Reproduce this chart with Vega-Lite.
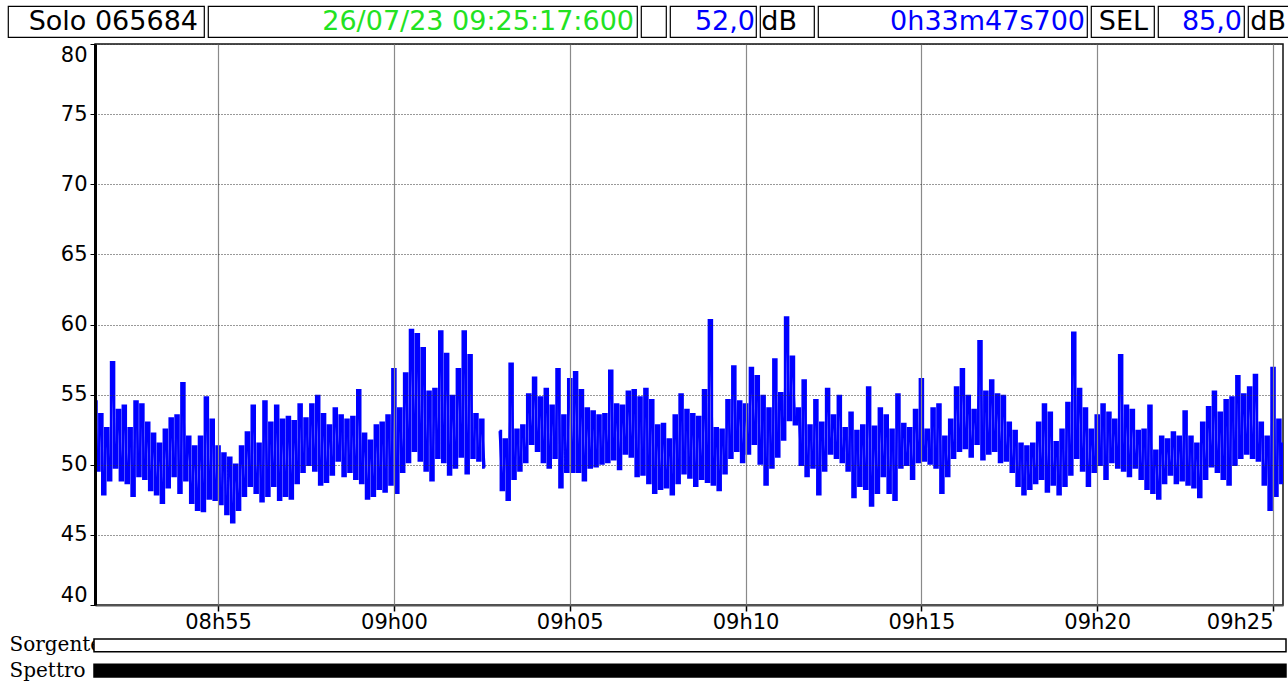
{
"$schema": "https://vega.github.io/schema/vega-lite/v6.json",
"background": "white",
"padding": {"left": 7, "top": 5, "right": 0, "bottom": 0},
"config": {"view": {"stroke": null}, "font": "DejaVu Sans", "axis": {"labelFont": "DejaVu Sans"}},
"spacing": 0,
"vconcat": [
{"hconcat": [
 {"width": 196, "height": 31, "view": {"stroke": "#000", "strokeWidth": 1.2}, "data": {"values": [{"label": "Solo 065684"}]}, "mark": {"type": "text", "x": "width", "dx": -6, "align": "right", "baseline": "middle", "fontSize": 27, "color": "#000"}, "encoding": {"text": {"field": "label"}}},
 {"width": 429, "height": 31, "view": {"stroke": "#000", "strokeWidth": 1.2}, "data": {"values": [{"label": "26/07/23 09:25:17:600"}]}, "mark": {"type": "text", "x": "width", "dx": -3, "align": "right", "baseline": "middle", "fontSize": 27, "color": "#22e222"}, "encoding": {"text": {"field": "label"}}},
 {"width": 25, "height": 31, "view": {"stroke": "#000", "strokeWidth": 1.2}, "data": {"values": [{"label": " "}]}, "mark": {"type": "text", "x": "width", "align": "right", "baseline": "middle", "fontSize": 27}, "encoding": {"text": {"field": "label"}}},
 {"width": 86, "height": 31, "view": {"stroke": "#000", "strokeWidth": 1.2}, "data": {"values": [{"label": "52,0"}]}, "mark": {"type": "text", "x": "width", "dx": -1, "align": "right", "baseline": "middle", "fontSize": 27, "color": "#0000ff"}, "encoding": {"text": {"field": "label"}}},
 {"width": 54, "height": 31, "view": {"stroke": "#000", "strokeWidth": 1.2}, "data": {"values": [{"label": "dB"}]}, "mark": {"type": "text", "x": "width", "dx": -17, "align": "right", "baseline": "middle", "fontSize": 27, "color": "#000"}, "encoding": {"text": {"field": "label"}}},
 {"width": 269, "height": 31, "view": {"stroke": "#000", "strokeWidth": 1.2}, "data": {"values": [{"label": "0h33m47s700"}]}, "mark": {"type": "text", "x": "width", "dx": -2, "align": "right", "baseline": "middle", "fontSize": 27, "color": "#0000ff"}, "encoding": {"text": {"field": "label"}}},
 {"width": 63, "height": 31, "view": {"stroke": "#000", "strokeWidth": 1.2}, "data": {"values": [{"label": "SEL"}]}, "mark": {"type": "text", "x": "width", "dx": -6, "align": "right", "baseline": "middle", "fontSize": 27, "color": "#000"}, "encoding": {"text": {"field": "label"}}},
 {"width": 86, "height": 31, "view": {"stroke": "#000", "strokeWidth": 1.2}, "data": {"values": [{"label": "85,0"}]}, "mark": {"type": "text", "x": "width", "dx": -2, "align": "right", "baseline": "middle", "fontSize": 27, "color": "#0000ff"}, "encoding": {"text": {"field": "label"}}},
 {"width": 41, "height": 31, "view": {"stroke": "#000", "strokeWidth": 1.2}, "data": {"values": [{"label": "dB"}]}, "mark": {"type": "text", "x": "width", "dx": -3, "align": "right", "baseline": "middle", "fontSize": 27, "color": "#000"}, "encoding": {"text": {"field": "label"}}}
], "spacing": 2},
{"hconcat": [
 {"width": 51, "height": 1, "data": {"values": [{"label": " "}]}, "mark": {"type": "text"}, "encoding": {"text": {"field": "label"}}},
 {"width": 1188, "height": 561,
  "view": {"stroke": "#111", "strokeWidth": 1.5},
  "data": {"values": [
{"t":"2023-07-26T08:51:30","v":54.5},{"t":"2023-07-26T08:51:35","v":49.6},{"t":"2023-07-26T08:51:40","v":53.6},{"t":"2023-07-26T08:51:45","v":47.9},{"t":"2023-07-26T08:51:50","v":52.6},{"t":"2023-07-26T08:51:55","v":48.9},
{"t":"2023-07-26T08:52:00","v":57.3},{"t":"2023-07-26T08:52:05","v":49.8},{"t":"2023-07-26T08:52:10","v":53.9},{"t":"2023-07-26T08:52:15","v":48.9},{"t":"2023-07-26T08:52:20","v":54.2},{"t":"2023-07-26T08:52:25","v":48.7},
{"t":"2023-07-26T08:52:30","v":52.6},{"t":"2023-07-26T08:52:35","v":47.8},{"t":"2023-07-26T08:52:40","v":54.5},{"t":"2023-07-26T08:52:45","v":49.2},{"t":"2023-07-26T08:52:50","v":54.3},{"t":"2023-07-26T08:52:55","v":49.0},
{"t":"2023-07-26T08:53:00","v":53.0},{"t":"2023-07-26T08:53:05","v":48.2},{"t":"2023-07-26T08:53:10","v":52.2},{"t":"2023-07-26T08:53:15","v":47.9},{"t":"2023-07-26T08:53:20","v":51.5},{"t":"2023-07-26T08:53:25","v":47.3},
{"t":"2023-07-26T08:53:30","v":52.5},{"t":"2023-07-26T08:53:35","v":48.4},{"t":"2023-07-26T08:53:40","v":53.3},{"t":"2023-07-26T08:53:45","v":49.2},{"t":"2023-07-26T08:53:50","v":53.5},{"t":"2023-07-26T08:53:55","v":48.0},
{"t":"2023-07-26T08:54:00","v":55.8},{"t":"2023-07-26T08:54:05","v":48.9},{"t":"2023-07-26T08:54:10","v":52.0},{"t":"2023-07-26T08:54:15","v":47.3},{"t":"2023-07-26T08:54:20","v":51.3},{"t":"2023-07-26T08:54:25","v":46.8},
{"t":"2023-07-26T08:54:30","v":52.0},{"t":"2023-07-26T08:54:35","v":46.7},{"t":"2023-07-26T08:54:40","v":54.8},{"t":"2023-07-26T08:54:45","v":47.6},{"t":"2023-07-26T08:54:50","v":53.2},{"t":"2023-07-26T08:54:55","v":47.5},
{"t":"2023-07-26T08:55:00","v":51.3},{"t":"2023-07-26T08:55:05","v":47.2},{"t":"2023-07-26T08:55:10","v":50.8},{"t":"2023-07-26T08:55:15","v":46.5},{"t":"2023-07-26T08:55:20","v":50.5},{"t":"2023-07-26T08:55:25","v":45.9},
{"t":"2023-07-26T08:55:30","v":50.0},{"t":"2023-07-26T08:55:35","v":46.8},{"t":"2023-07-26T08:55:40","v":51.3},{"t":"2023-07-26T08:55:45","v":47.8},{"t":"2023-07-26T08:55:50","v":52.3},{"t":"2023-07-26T08:55:55","v":48.5},
{"t":"2023-07-26T08:56:00","v":54.2},{"t":"2023-07-26T08:56:05","v":48.0},{"t":"2023-07-26T08:56:10","v":51.5},{"t":"2023-07-26T08:56:15","v":47.4},{"t":"2023-07-26T08:56:20","v":54.5},{"t":"2023-07-26T08:56:25","v":47.8},
{"t":"2023-07-26T08:56:30","v":53.0},{"t":"2023-07-26T08:56:35","v":48.5},{"t":"2023-07-26T08:56:40","v":54.2},{"t":"2023-07-26T08:56:45","v":47.5},{"t":"2023-07-26T08:56:50","v":53.2},{"t":"2023-07-26T08:56:55","v":47.8},
{"t":"2023-07-26T08:57:00","v":53.4},{"t":"2023-07-26T08:57:05","v":47.6},{"t":"2023-07-26T08:57:10","v":53.1},{"t":"2023-07-26T08:57:15","v":48.7},{"t":"2023-07-26T08:57:20","v":54.3},{"t":"2023-07-26T08:57:25","v":49.5},
{"t":"2023-07-26T08:57:30","v":53.3},{"t":"2023-07-26T08:57:35","v":50.0},{"t":"2023-07-26T08:57:40","v":54.3},{"t":"2023-07-26T08:57:45","v":49.6},{"t":"2023-07-26T08:57:50","v":54.9},{"t":"2023-07-26T08:57:55","v":48.6},
{"t":"2023-07-26T08:58:00","v":53.6},{"t":"2023-07-26T08:58:05","v":48.8},{"t":"2023-07-26T08:58:10","v":52.8},{"t":"2023-07-26T08:58:15","v":49.3},{"t":"2023-07-26T08:58:20","v":54.0},{"t":"2023-07-26T08:58:25","v":50.3},
{"t":"2023-07-26T08:58:30","v":53.5},{"t":"2023-07-26T08:58:35","v":49.2},{"t":"2023-07-26T08:58:40","v":53.2},{"t":"2023-07-26T08:58:45","v":49.5},{"t":"2023-07-26T08:58:50","v":53.4},{"t":"2023-07-26T08:58:55","v":49.0},
{"t":"2023-07-26T08:59:00","v":55.3},{"t":"2023-07-26T08:59:05","v":48.7},{"t":"2023-07-26T08:59:10","v":52.2},{"t":"2023-07-26T08:59:15","v":47.6},{"t":"2023-07-26T08:59:20","v":51.7},{"t":"2023-07-26T08:59:25","v":47.8},
{"t":"2023-07-26T08:59:30","v":52.8},{"t":"2023-07-26T08:59:35","v":48.3},{"t":"2023-07-26T08:59:40","v":53.0},{"t":"2023-07-26T08:59:45","v":48.1},{"t":"2023-07-26T08:59:50","v":53.5},{"t":"2023-07-26T08:59:55","v":48.6},
{"t":"2023-07-26T09:00:00","v":56.8},{"t":"2023-07-26T09:00:05","v":48.0},{"t":"2023-07-26T09:00:10","v":54.0},{"t":"2023-07-26T09:00:15","v":49.5},{"t":"2023-07-26T09:00:20","v":56.5},{"t":"2023-07-26T09:00:25","v":50.2},
{"t":"2023-07-26T09:00:30","v":59.6},{"t":"2023-07-26T09:00:35","v":51.0},{"t":"2023-07-26T09:00:40","v":59.3},{"t":"2023-07-26T09:00:45","v":50.3},{"t":"2023-07-26T09:00:50","v":58.3},{"t":"2023-07-26T09:00:55","v":49.6},
{"t":"2023-07-26T09:01:00","v":55.2},{"t":"2023-07-26T09:01:05","v":48.9},{"t":"2023-07-26T09:01:10","v":55.4},{"t":"2023-07-26T09:01:15","v":50.5},{"t":"2023-07-26T09:01:20","v":59.5},{"t":"2023-07-26T09:01:25","v":50.2},
{"t":"2023-07-26T09:01:30","v":57.9},{"t":"2023-07-26T09:01:35","v":49.3},{"t":"2023-07-26T09:01:40","v":54.9},{"t":"2023-07-26T09:01:45","v":49.8},{"t":"2023-07-26T09:01:50","v":56.8},{"t":"2023-07-26T09:01:55","v":50.6},
{"t":"2023-07-26T09:02:00","v":59.5},{"t":"2023-07-26T09:02:05","v":49.4},{"t":"2023-07-26T09:02:10","v":57.8},{"t":"2023-07-26T09:02:15","v":50.5},{"t":"2023-07-26T09:02:20","v":53.6},{"t":"2023-07-26T09:02:25","v":50.3},
{"t":"2023-07-26T09:02:30","v":53.2},{"t":"2023-07-26T09:02:35","v":49.8},{"t":"2023-07-26T09:02:47","v":null},
{"t":"2023-07-26T09:03:00","v":52.4},{"t":"2023-07-26T09:03:05","v":48.2},{"t":"2023-07-26T09:03:10","v":51.8},{"t":"2023-07-26T09:03:15","v":47.5},{"t":"2023-07-26T09:03:20","v":57.2},{"t":"2023-07-26T09:03:25","v":49.0},
{"t":"2023-07-26T09:03:30","v":52.5},{"t":"2023-07-26T09:03:35","v":49.6},{"t":"2023-07-26T09:03:40","v":52.8},{"t":"2023-07-26T09:03:45","v":50.2},{"t":"2023-07-26T09:03:50","v":55.0},{"t":"2023-07-26T09:03:55","v":51.5},
{"t":"2023-07-26T09:04:00","v":56.2},{"t":"2023-07-26T09:04:05","v":51.0},{"t":"2023-07-26T09:04:10","v":54.8},{"t":"2023-07-26T09:04:15","v":50.2},{"t":"2023-07-26T09:04:20","v":55.4},{"t":"2023-07-26T09:04:25","v":49.8},
{"t":"2023-07-26T09:04:30","v":54.2},{"t":"2023-07-26T09:04:35","v":50.5},{"t":"2023-07-26T09:04:40","v":56.8},{"t":"2023-07-26T09:04:45","v":48.4},{"t":"2023-07-26T09:04:50","v":53.5},{"t":"2023-07-26T09:04:55","v":49.5},
{"t":"2023-07-26T09:05:00","v":56.1},{"t":"2023-07-26T09:05:05","v":49.5},{"t":"2023-07-26T09:05:10","v":56.6},{"t":"2023-07-26T09:05:15","v":49.5},{"t":"2023-07-26T09:05:20","v":55.3},{"t":"2023-07-26T09:05:25","v":48.9},
{"t":"2023-07-26T09:05:30","v":54.0},{"t":"2023-07-26T09:05:35","v":49.8},{"t":"2023-07-26T09:05:40","v":53.8},{"t":"2023-07-26T09:05:45","v":49.9},{"t":"2023-07-26T09:05:50","v":53.5},{"t":"2023-07-26T09:05:55","v":50.1},
{"t":"2023-07-26T09:06:00","v":53.6},{"t":"2023-07-26T09:06:05","v":50.2},{"t":"2023-07-26T09:06:10","v":56.7},{"t":"2023-07-26T09:06:15","v":50.4},{"t":"2023-07-26T09:06:20","v":54.3},{"t":"2023-07-26T09:06:25","v":49.7},
{"t":"2023-07-26T09:06:30","v":54.2},{"t":"2023-07-26T09:06:35","v":50.8},{"t":"2023-07-26T09:06:40","v":55.2},{"t":"2023-07-26T09:06:45","v":50.6},{"t":"2023-07-26T09:06:50","v":55.3},{"t":"2023-07-26T09:06:55","v":49.2},
{"t":"2023-07-26T09:07:00","v":54.8},{"t":"2023-07-26T09:07:05","v":49.3},{"t":"2023-07-26T09:07:10","v":55.4},{"t":"2023-07-26T09:07:15","v":48.7},{"t":"2023-07-26T09:07:20","v":54.6},{"t":"2023-07-26T09:07:25","v":48.0},
{"t":"2023-07-26T09:07:30","v":52.8},{"t":"2023-07-26T09:07:35","v":48.3},{"t":"2023-07-26T09:07:40","v":52.9},{"t":"2023-07-26T09:07:45","v":48.4},{"t":"2023-07-26T09:07:50","v":51.8},{"t":"2023-07-26T09:07:55","v":47.9},
{"t":"2023-07-26T09:08:00","v":53.5},{"t":"2023-07-26T09:08:05","v":48.7},{"t":"2023-07-26T09:08:10","v":55.0},{"t":"2023-07-26T09:08:15","v":49.4},{"t":"2023-07-26T09:08:20","v":53.9},{"t":"2023-07-26T09:08:25","v":49.1},
{"t":"2023-07-26T09:08:30","v":53.6},{"t":"2023-07-26T09:08:35","v":48.5},{"t":"2023-07-26T09:08:40","v":53.4},{"t":"2023-07-26T09:08:45","v":49.0},{"t":"2023-07-26T09:08:50","v":55.3},{"t":"2023-07-26T09:08:55","v":48.8},
{"t":"2023-07-26T09:09:00","v":60.3},{"t":"2023-07-26T09:09:05","v":48.6},{"t":"2023-07-26T09:09:10","v":52.6},{"t":"2023-07-26T09:09:15","v":48.2},{"t":"2023-07-26T09:09:20","v":52.5},{"t":"2023-07-26T09:09:25","v":49.4},
{"t":"2023-07-26T09:09:30","v":54.6},{"t":"2023-07-26T09:09:35","v":50.5},{"t":"2023-07-26T09:09:40","v":57.0},{"t":"2023-07-26T09:09:45","v":51.0},{"t":"2023-07-26T09:09:50","v":54.5},{"t":"2023-07-26T09:09:55","v":50.2},
{"t":"2023-07-26T09:10:00","v":54.3},{"t":"2023-07-26T09:10:05","v":50.8},{"t":"2023-07-26T09:10:10","v":56.9},{"t":"2023-07-26T09:10:15","v":51.5},{"t":"2023-07-26T09:10:20","v":56.3},{"t":"2023-07-26T09:10:25","v":50.1},
{"t":"2023-07-26T09:10:30","v":54.9},{"t":"2023-07-26T09:10:35","v":48.6},{"t":"2023-07-26T09:10:40","v":54.0},{"t":"2023-07-26T09:10:45","v":49.8},{"t":"2023-07-26T09:10:50","v":57.5},{"t":"2023-07-26T09:10:55","v":50.6},
{"t":"2023-07-26T09:11:00","v":55.1},{"t":"2023-07-26T09:11:05","v":51.8},{"t":"2023-07-26T09:11:10","v":60.5},{"t":"2023-07-26T09:11:15","v":53.2},{"t":"2023-07-26T09:11:20","v":57.7},{"t":"2023-07-26T09:11:25","v":52.9},
{"t":"2023-07-26T09:11:30","v":54.0},{"t":"2023-07-26T09:11:35","v":50.0},{"t":"2023-07-26T09:11:40","v":56.0},{"t":"2023-07-26T09:11:45","v":49.2},{"t":"2023-07-26T09:11:50","v":52.8},{"t":"2023-07-26T09:11:55","v":49.8},
{"t":"2023-07-26T09:12:00","v":54.6},{"t":"2023-07-26T09:12:05","v":47.9},{"t":"2023-07-26T09:12:10","v":53.0},{"t":"2023-07-26T09:12:15","v":49.6},{"t":"2023-07-26T09:12:20","v":55.4},{"t":"2023-07-26T09:12:25","v":50.8},
{"t":"2023-07-26T09:12:30","v":53.5},{"t":"2023-07-26T09:12:35","v":50.5},{"t":"2023-07-26T09:12:40","v":54.9},{"t":"2023-07-26T09:12:45","v":50.2},{"t":"2023-07-26T09:12:50","v":52.6},{"t":"2023-07-26T09:12:55","v":49.6},
{"t":"2023-07-26T09:13:00","v":53.7},{"t":"2023-07-26T09:13:05","v":47.7},{"t":"2023-07-26T09:13:10","v":52.4},{"t":"2023-07-26T09:13:15","v":48.5},{"t":"2023-07-26T09:13:20","v":52.8},{"t":"2023-07-26T09:13:25","v":48.3},
{"t":"2023-07-26T09:13:30","v":55.5},{"t":"2023-07-26T09:13:35","v":47.1},{"t":"2023-07-26T09:13:40","v":52.7},{"t":"2023-07-26T09:13:45","v":48.0},{"t":"2023-07-26T09:13:50","v":54.0},{"t":"2023-07-26T09:13:55","v":49.2},
{"t":"2023-07-26T09:14:00","v":53.5},{"t":"2023-07-26T09:14:05","v":48.0},{"t":"2023-07-26T09:14:10","v":52.5},{"t":"2023-07-26T09:14:15","v":47.5},{"t":"2023-07-26T09:14:20","v":55.0},{"t":"2023-07-26T09:14:25","v":49.8},
{"t":"2023-07-26T09:14:30","v":52.9},{"t":"2023-07-26T09:14:35","v":50.0},{"t":"2023-07-26T09:14:40","v":52.6},{"t":"2023-07-26T09:14:45","v":49.0},{"t":"2023-07-26T09:14:50","v":53.9},{"t":"2023-07-26T09:14:55","v":50.2},
{"t":"2023-07-26T09:15:00","v":56.1},{"t":"2023-07-26T09:15:05","v":50.3},{"t":"2023-07-26T09:15:10","v":52.5},{"t":"2023-07-26T09:15:15","v":50.1},{"t":"2023-07-26T09:15:20","v":54.0},{"t":"2023-07-26T09:15:25","v":49.8},
{"t":"2023-07-26T09:15:30","v":54.3},{"t":"2023-07-26T09:15:35","v":48.0},{"t":"2023-07-26T09:15:40","v":52.0},{"t":"2023-07-26T09:15:45","v":49.2},{"t":"2023-07-26T09:15:50","v":53.2},{"t":"2023-07-26T09:15:55","v":50.5},
{"t":"2023-07-26T09:16:00","v":55.5},{"t":"2023-07-26T09:16:05","v":51.0},{"t":"2023-07-26T09:16:10","v":56.8},{"t":"2023-07-26T09:16:15","v":51.2},{"t":"2023-07-26T09:16:20","v":54.9},{"t":"2023-07-26T09:16:25","v":50.6},
{"t":"2023-07-26T09:16:30","v":53.9},{"t":"2023-07-26T09:16:35","v":51.5},{"t":"2023-07-26T09:16:40","v":58.8},{"t":"2023-07-26T09:16:45","v":50.4},{"t":"2023-07-26T09:16:50","v":55.2},{"t":"2023-07-26T09:16:55","v":50.8},
{"t":"2023-07-26T09:17:00","v":56.0},{"t":"2023-07-26T09:17:05","v":51.0},{"t":"2023-07-26T09:17:10","v":55.0},{"t":"2023-07-26T09:17:15","v":50.2},{"t":"2023-07-26T09:17:20","v":54.9},{"t":"2023-07-26T09:17:25","v":50.3},
{"t":"2023-07-26T09:17:30","v":53.0},{"t":"2023-07-26T09:17:35","v":49.5},{"t":"2023-07-26T09:17:40","v":52.4},{"t":"2023-07-26T09:17:45","v":48.5},{"t":"2023-07-26T09:17:50","v":51.5},{"t":"2023-07-26T09:17:55","v":47.9},
{"t":"2023-07-26T09:18:00","v":51.3},{"t":"2023-07-26T09:18:05","v":48.3},{"t":"2023-07-26T09:18:10","v":51.5},{"t":"2023-07-26T09:18:15","v":48.7},{"t":"2023-07-26T09:18:20","v":53.0},{"t":"2023-07-26T09:18:25","v":49.0},
{"t":"2023-07-26T09:18:30","v":54.3},{"t":"2023-07-26T09:18:35","v":48.1},{"t":"2023-07-26T09:18:40","v":53.7},{"t":"2023-07-26T09:18:45","v":48.6},{"t":"2023-07-26T09:18:50","v":51.6},{"t":"2023-07-26T09:18:55","v":47.9},
{"t":"2023-07-26T09:19:00","v":52.5},{"t":"2023-07-26T09:19:05","v":48.5},{"t":"2023-07-26T09:19:10","v":54.4},{"t":"2023-07-26T09:19:15","v":49.3},{"t":"2023-07-26T09:19:20","v":59.4},{"t":"2023-07-26T09:19:25","v":50.5},
{"t":"2023-07-26T09:19:30","v":55.4},{"t":"2023-07-26T09:19:35","v":49.6},{"t":"2023-07-26T09:19:40","v":54.0},{"t":"2023-07-26T09:19:45","v":48.5},{"t":"2023-07-26T09:19:50","v":52.5},{"t":"2023-07-26T09:19:55","v":49.5},
{"t":"2023-07-26T09:20:00","v":53.5},{"t":"2023-07-26T09:20:05","v":50.0},{"t":"2023-07-26T09:20:10","v":54.3},{"t":"2023-07-26T09:20:15","v":49.0},{"t":"2023-07-26T09:20:20","v":53.7},{"t":"2023-07-26T09:20:25","v":50.2},
{"t":"2023-07-26T09:20:30","v":53.2},{"t":"2023-07-26T09:20:35","v":49.8},{"t":"2023-07-26T09:20:40","v":57.8},{"t":"2023-07-26T09:20:45","v":49.6},{"t":"2023-07-26T09:20:50","v":54.2},{"t":"2023-07-26T09:20:55","v":49.2},
{"t":"2023-07-26T09:21:00","v":53.9},{"t":"2023-07-26T09:21:05","v":49.8},{"t":"2023-07-26T09:21:10","v":52.4},{"t":"2023-07-26T09:21:15","v":49.0},{"t":"2023-07-26T09:21:20","v":52.5},{"t":"2023-07-26T09:21:25","v":48.3},
{"t":"2023-07-26T09:21:30","v":54.2},{"t":"2023-07-26T09:21:35","v":48.0},{"t":"2023-07-26T09:21:40","v":51.0},{"t":"2023-07-26T09:21:45","v":47.6},{"t":"2023-07-26T09:21:50","v":52.0},{"t":"2023-07-26T09:21:55","v":48.7},
{"t":"2023-07-26T09:22:00","v":51.8},{"t":"2023-07-26T09:22:05","v":49.3},{"t":"2023-07-26T09:22:10","v":52.3},{"t":"2023-07-26T09:22:15","v":48.7},{"t":"2023-07-26T09:22:20","v":52.0},{"t":"2023-07-26T09:22:25","v":48.9},
{"t":"2023-07-26T09:22:30","v":53.8},{"t":"2023-07-26T09:22:35","v":48.6},{"t":"2023-07-26T09:22:40","v":52.0},{"t":"2023-07-26T09:22:45","v":48.4},{"t":"2023-07-26T09:22:50","v":51.5},{"t":"2023-07-26T09:22:55","v":47.7},
{"t":"2023-07-26T09:23:00","v":53.0},{"t":"2023-07-26T09:23:05","v":49.0},{"t":"2023-07-26T09:23:10","v":54.1},{"t":"2023-07-26T09:23:15","v":49.9},{"t":"2023-07-26T09:23:20","v":55.2},{"t":"2023-07-26T09:23:25","v":49.5},
{"t":"2023-07-26T09:23:30","v":53.7},{"t":"2023-07-26T09:23:35","v":49.0},{"t":"2023-07-26T09:23:40","v":54.6},{"t":"2023-07-26T09:23:45","v":48.6},{"t":"2023-07-26T09:23:50","v":54.8},{"t":"2023-07-26T09:23:55","v":50.0},
{"t":"2023-07-26T09:24:00","v":56.3},{"t":"2023-07-26T09:24:05","v":50.5},{"t":"2023-07-26T09:24:10","v":55.0},{"t":"2023-07-26T09:24:15","v":50.8},{"t":"2023-07-26T09:24:20","v":55.5},{"t":"2023-07-26T09:24:25","v":50.5},
{"t":"2023-07-26T09:24:30","v":56.4},{"t":"2023-07-26T09:24:35","v":50.3},{"t":"2023-07-26T09:24:40","v":53.0},{"t":"2023-07-26T09:24:45","v":48.6},{"t":"2023-07-26T09:24:50","v":52.0},{"t":"2023-07-26T09:24:55","v":46.8},
{"t":"2023-07-26T09:25:00","v":56.9},{"t":"2023-07-26T09:25:05","v":47.8},{"t":"2023-07-26T09:25:10","v":53.2},{"t":"2023-07-26T09:25:15","v":48.7},{"t":"2023-07-26T09:25:17","v":51.5}
  ]},
  "encoding": {
   "x": {"field": "t", "type": "temporal",
     "scale": {"nice": false},
     "axis": {"title": null, "format": "%Hh%M", "tickCount": 7, "labelAlign": {"expr": "datum.index === 1 ? 'right' : 'center'"}, "labelFontSize": 21, "labelColor": "#000", "tickSize": 6, "tickColor": "#000", "tickWidth": 1.5, "labelPadding": 0, "domainColor": "#555", "domainWidth": 2, "grid": true, "gridColor": "#8a8a8a", "gridWidth": 1.2, "zindex": 1}},
   "y": {"field": "v", "type": "quantitative",
     "scale": {"domain": [40, 80], "nice": false, "zero": false},
     "axis": {"title": null, "values": [40, 45, 50, 55, 60, 65, 70, 75, 80], "labelFontSize": 21, "labelColor": "#000", "tickSize": 5, "tickColor": "#000", "labelPadding": 3, "domainColor": "#000", "domainWidth": 3, "grid": true, "gridColor": "#333", "gridDash": [1, 2], "gridWidth": 1, "labelFlush": true, "zindex": 1}}
  },
  "layer": [
   {"mark": {"type": "line", "color": "#0000ff", "strokeWidth": 2.6, "interpolate": "step", "clip": true}},
   {"mark": {"type": "line", "color": "#0000ff", "strokeWidth": 1.8, "strokeJoin": "bevel", "clip": true}}
  ]
 }
], "spacing": 0},
{"hconcat": [
 {"width": 1, "height": 1, "data": {"values": [{"label": " "}]}, "mark": {"type": "text"}, "encoding": {"text": {"field": "label"}}},
 {"width": 1192, "height": 38,
  "data": {"values": [{"track": "Sorgente", "start": "2023-07-26T08:51:30", "end": "2023-07-26T09:25:17"}, {"track": "Spettro", "start": "2023-07-26T08:51:30", "end": "2023-07-26T09:25:17"}]},
  "mark": {"type": "bar", "stroke": "#000", "strokeWidth": 1.5},
  "encoding": {
   "x": {"field": "start", "type": "temporal", "scale": {"nice": false}, "axis": null},
   "x2": {"field": "end"},
   "y": {"field": "track", "type": "nominal", "sort": ["Sorgente", "Spettro"], "scale": {"paddingInner": 0.5, "paddingOuter": 0}, "axis": {"title": null, "ticks": false, "domain": false, "labelAlign": "left", "labelPadding": 85, "labelFont": "DejaVu Serif", "labelFontSize": 20, "labelColor": "#000"}},
   "color": {"field": "track", "type": "nominal", "scale": {"domain": ["Sorgente", "Spettro"], "range": ["#ffffff", "#000000"]}, "legend": null}
  }
 }
], "spacing": 0}
]
}
